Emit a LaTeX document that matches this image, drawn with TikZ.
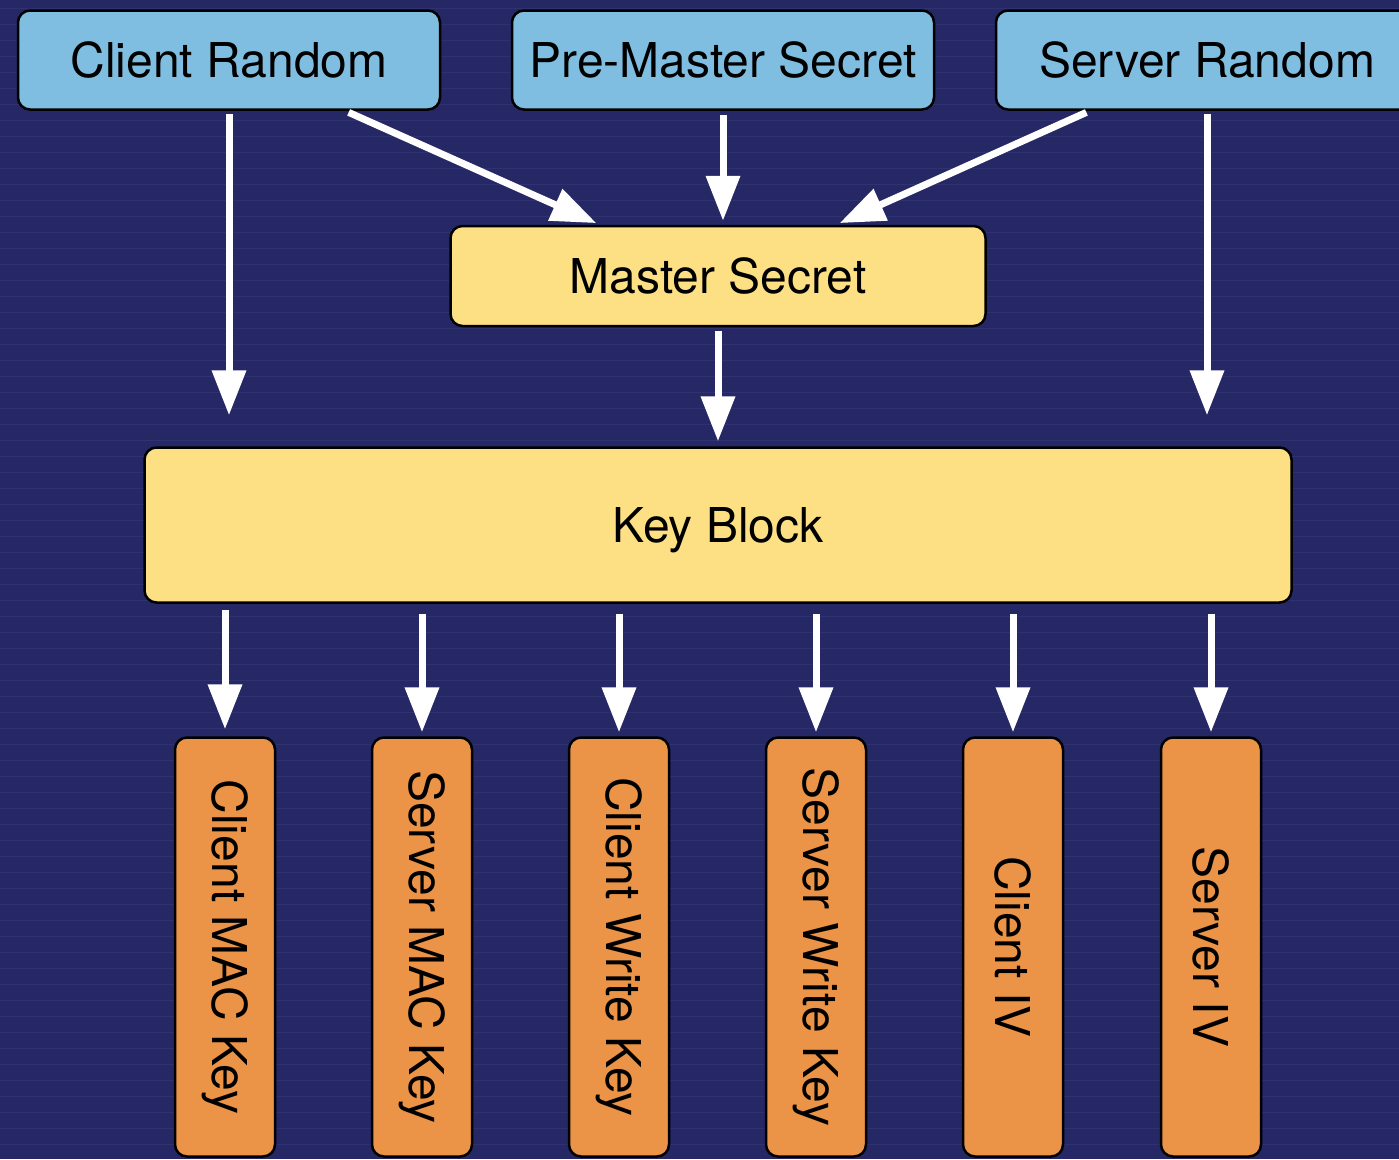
\documentclass[tikz,border=0pt]{standalone}
\usepackage{fontspec}
\setmainfont{TeX Gyre Heros}
\usetikzlibrary{arrows.meta}
\definecolor{fond}{RGB}{38,40,102}
\definecolor{trait}{RGB}{70,76,140}
\definecolor{bleuC}{RGB}{127,190,224}
\definecolor{jauneC}{RGB}{253,224,132}
\definecolor{orangeC}{RGB}{235,147,70}
\begin{document}
\begin{tikzpicture}[x=1pt,y=-1pt]
    % Styles
    \tikzstyle{fleche}=[-{Triangle[length=45pt,width=33pt]},white,line width=7pt]
    \tikzstyle{boite}=[draw=black,line width=2.5pt,rounded corners=12pt,inner sep=0pt,font=\fontsize{48}{50}\selectfont]
    \tikzstyle{boiteB}=[boite,fill=bleuC,minimum width=422pt,minimum height=99pt]
    \tikzstyle{boiteJ}=[boite,fill=jauneC]
    \tikzstyle{boiteO}=[boite,fill=orangeC,rotate=-90,minimum width=419pt,minimum height=100pt]
    \tikzstyle{ligne}=[trait,line width=1pt,opacity=0.3]
    % Fond
    \useasboundingbox (0,0) rectangle (1399,1159);
    \fill[fond] (0,0) rectangle (1399,1159);
    \foreach \y in {8,24,...,1159} \draw[ligne] (0,\y) -- (1399,\y);
    % Noeuds du haut
    \node[boiteB] (Ha) at (229,60) {Client Random};
    \node[boiteB] (Hb) at (723,60) {Pre-Master Secret};
    \node[boiteB] (Hc) at (1207,60) {Server Random};
    % Noeuds du milieu
    \node[boiteJ,minimum width=535pt,minimum height=100pt] (M) at (718,276) {Master Secret};
    \node[boiteJ,minimum width=1147pt,minimum height=155pt,text depth=0pt] (B) at (718,525) {Key Block};
    % Cles
    \node[boiteO] (Ba) at (225,947) {Client MAC Key};
    \node[boiteO] (Bb) at (422,947) {Server MAC Key};
    \node[boiteO] (Bc) at (619,947) {Client Write Key};
    \node[boiteO] (Bd) at (816,947) {Server Write Key};
    \node[boiteO] (Be) at (1013,947) {Client IV};
    \node[boiteO] (Bf) at (1211,947) {Server IV};
    % Fleches
    \draw[fleche,shorten <=3pt,shorten >=31pt] (Ha.south) -- (Ha.south |- B.north);
    \draw[fleche,shorten <=3pt,shorten >=31pt] (Hc.south) -- (Hc.south |- B.north);
    \draw[fleche,shorten <=4pt,shorten >=4pt] ([xshift=116pt]Ha.south) -- ([xshift=-118pt]M.north);
    \draw[fleche,shorten <=4pt,shorten >=4pt] (Hb.south) -- (Hb.south |- M.north);
    \draw[fleche,shorten <=4pt,shorten >=4pt] ([xshift=-117pt]Hc.south) -- ([xshift=118pt]M.north);
    \draw[fleche,shorten <=4pt,shorten >=5pt] (M.south) -- (B.north);

    \draw[fleche,shorten <=6pt,shorten >=7pt] (B.south -| Ba.west) -- (Ba.west);
    \draw[fleche,shorten <=10pt,shorten >=4pt] (B.south -| Bb.west) -- (Bb.west);
    \draw[fleche,shorten <=10pt,shorten >=4pt] (B.south -| Bc.west) -- (Bc.west);
    \draw[fleche,shorten <=10pt,shorten >=4pt] (B.south -| Bd.west) -- (Bd.west);
    \draw[fleche,shorten <=10pt,shorten >=4pt] (B.south -| Be.west) -- (Be.west);
    \draw[fleche,shorten <=10pt,shorten >=4pt] (B.south -| Bf.west) -- (Bf.west);
\end{tikzpicture}
\end{document}
